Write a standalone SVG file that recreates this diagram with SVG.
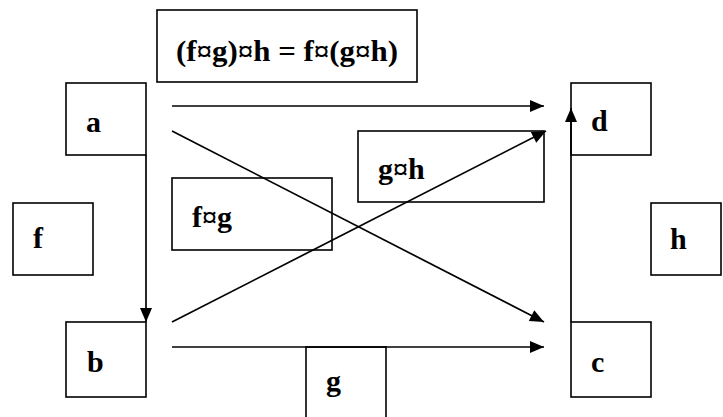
<svg xmlns="http://www.w3.org/2000/svg" width="723" height="417" viewBox="0 0 723 417">
<defs>
<style>
.box{fill:#fff;stroke:#000;stroke-width:1.6}
.lbl{font-family:"Liberation Serif","Times New Roman",serif;font-weight:bold;font-size:30px;fill:#000}
.ln{fill:none;stroke:#000;stroke-width:1.7}
</style>
<marker id="ah" markerUnits="userSpaceOnUse" markerWidth="16" markerHeight="14" refX="14" refY="6" orient="auto" overflow="visible">
<path d="M0,0 L14,6 L0,12 z" fill="#000"/>
</marker>
</defs>
<rect width="723" height="417" fill="#fff"/>
<g id="formula"><rect class="box" x="157" y="10" width="260" height="72"/><text class="lbl" x="176" y="61" textLength="222" lengthAdjust="spacingAndGlyphs">(f¤g)¤h = f¤(g¤h)</text></g>
<g id="node-a"><rect class="box" x="66" y="83" width="80" height="72"/><text class="lbl" x="86" y="132">a</text></g>
<g id="node-d"><rect class="box" x="571" y="83" width="80" height="72"/><text class="lbl" x="591" y="131">d</text></g>
<g id="node-gh"><rect class="box" x="358" y="131" width="186" height="71"/><text class="lbl" x="378" y="179">g¤h</text></g>
<g id="node-fg"><rect class="box" x="172" y="178" width="160" height="72"/><text class="lbl" x="192" y="227">f¤g</text></g>
<g id="node-f"><rect class="box" x="13" y="203" width="80" height="72"/><text class="lbl" x="33" y="248">f</text></g>
<g id="node-h"><rect class="box" x="651" y="203" width="70" height="72"/><text class="lbl" x="670" y="249">h</text></g>
<g id="node-b"><rect class="box" x="66" y="322" width="80" height="75"/><text class="lbl" x="87" y="372">b</text></g>
<g id="node-c"><rect class="box" x="571" y="322" width="80" height="75"/><text class="lbl" x="591" y="372">c</text></g>
<g id="node-g"><rect class="box" x="306" y="347" width="80" height="80"/><text class="lbl" x="326" y="391">g</text></g>
<g id="connectors">
<line class="ln" x1="172" y1="106" x2="544" y2="106" marker-end="url(#ah)"/>
<line class="ln" x1="172" y1="131" x2="544" y2="322" marker-end="url(#ah)"/>
<line class="ln" x1="172" y1="322" x2="546" y2="131" marker-end="url(#ah)"/>
<line class="ln" x1="172" y1="347" x2="544" y2="347" marker-end="url(#ah)"/>
<line class="ln" x1="146" y1="155" x2="146" y2="322" marker-end="url(#ah)"/>
<line class="ln" x1="571" y1="322" x2="571" y2="108" marker-end="url(#ah)"/>
</g>
</svg>
